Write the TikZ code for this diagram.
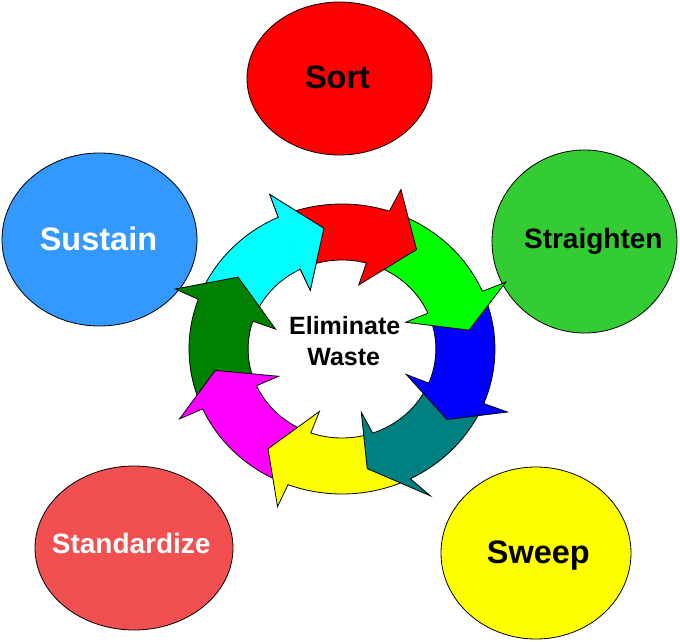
\documentclass[tikz,border=0pt]{standalone}
\usepackage{fontspec}
\setmainfont{Liberation Sans}
\usetikzlibrary{shapes.geometric}
\definecolor{sortred}{RGB}{255,0,0}
\definecolor{straightgreen}{RGB}{51,204,51}
\definecolor{sustainblue}{RGB}{51,153,255}
\definecolor{standardred}{RGB}{242,80,80}
\definecolor{sweepyellow}{RGB}{255,255,0}
\definecolor{aRed}{RGB}{255,0,0}
\definecolor{aGreen}{RGB}{0,255,0}
\definecolor{aBlue}{RGB}{0,0,255}
\definecolor{aTeal}{RGB}{0,128,128}
\definecolor{aYellow}{RGB}{255,255,0}
\definecolor{aMagenta}{RGB}{255,0,255}
\definecolor{aDkGreen}{RGB}{0,128,0}
\definecolor{aCyan}{RGB}{0,255,255}
% #1 tip angle, #2 outer barb angle, #3 inner barb angle,
% #4 previous outer barb angle, #5 previous inner barb angle, #6 colour
\newcommand\ringarrow[6]{%
  \pgfmathsetmacro\tipA{#1}%
  \pgfmathsetmacro\obA{#2}%
  \pgfmathsetmacro\ibA{#3}%
  \pgfmathsetmacro\bO{(#3)+0.767*((#2)-(#3))}%
  \pgfmathsetmacro\bI{(#3)+0.223*((#2)-(#3))}%
  \pgfmathsetmacro\tO{(#5)+0.767*((#4)-(#5))-1}%
  \pgfmathsetmacro\tI{(#5)+0.223*((#4)-(#5))-1}%
  \filldraw[seg, fill=#6] (\tO:145pt) arc[start angle=\tO, end angle=\bO, radius=145pt]
    -- (\obA:169pt) -- (\tipA:122pt) -- (\ibA:66pt) -- (\bI:89pt)
    arc[start angle=\bI, end angle=\tI, radius=89pt] -- cycle;}
\begin{document}
\begin{tikzpicture}[x=1pt,y=1pt,
  blob/.style={draw=black, line width=0.8pt, ellipse, inner sep=0pt, outer sep=0pt},
  lbl/.style={anchor=base, inner sep=0pt, font=\bfseries\fontsize{32.5}{38}\selectfont},
  midlbl/.style={anchor=base, inner sep=0pt, font=\bfseries\fontsize{28}{33}\selectfont},
  ctrlbl/.style={anchor=base, inner sep=0pt, font=\bfseries\fontsize{25}{30}\selectfont},
  seg/.style={draw=black, line width=0.8pt, line join=miter}]
\useasboundingbox (0,0) rectangle (680,-642);
% outer ellipses
\node[blob, fill=sortred, minimum width=185pt, minimum height=153pt] (sort) at (339.5,-78.5) {};
\node[blob, fill=straightgreen, minimum width=185pt, minimum height=183pt] (straighten) at (584.5,-241.5) {};
\node[blob, fill=sustainblue, minimum width=195pt, minimum height=173pt] (sustain) at (99.5,-239.5) {};
\node[blob, fill=standardred, minimum width=198pt, minimum height=164pt] (standardize) at (134,-548) {};
\node[blob, fill=sweepyellow, minimum width=190pt, minimum height=172pt] (sweep) at (536,-553) {};
\node[lbl, text=black] (sorttxt) at (337.5,-88.3) {Sort};
\node[midlbl, text=black] (straighttxt) at (593.3,-248.3) {Straighten};
\node[lbl, text=white] (sustaintxt) at (98.5,-250) {Sustain};
\node[midlbl, text=white] (standardtxt) at (131.2,-553.3) {Standardize};
\node[lbl, text=black] (sweeptxt) at (538.3,-563.3) {Sweep};
% ring of arrows (drawn against the flow so each head lies on the next tail)
\begin{scope}[shift={(342,-349)}, xscale=1.055]
  \ringarrow{98.1}{113.9}{117.1}{159.2}{162.5}{aCyan}
  \ringarrow{143.9}{159.2}{162.5}{204.4}{204.4}{aDkGreen}
  \ringarrow{-169.9}{-155.6}{-155.6}{-111.2}{-108.9}{aMagenta}
  \ringarrow{-125.1}{-111.2}{-108.9}{-60.3}{-73.9}{aYellow}
  \ringarrow{-78.7}{-60.3}{-73.9}{-21.9}{-22.7}{aTeal}
  \ringarrow{-35.3}{-21.9}{-22.7}{23.3}{23.9}{aBlue}
  \ringarrow{8.9}{23.3}{23.9}{70.7}{76.1}{aGreen}
  \ringarrow{54.6}{70.7}{76.1}{113.9}{117.1}{aRed}
  % cyan head again, on top of the red tail
  \fill[aCyan] (113.9:169pt) -- (98.1:122pt) -- (117.1:66pt) -- cycle;
  \draw[seg] (114.65:145pt) -- (113.9:169pt) -- (98.1:122pt) -- (117.1:66pt) -- (116.4:89pt);
\end{scope}
\node[ctrlbl] (elim) at (344.7,-334.3) {Eliminate};
\node[ctrlbl] (waste) at (343.7,-365) {Waste};
\end{tikzpicture}
\end{document}
